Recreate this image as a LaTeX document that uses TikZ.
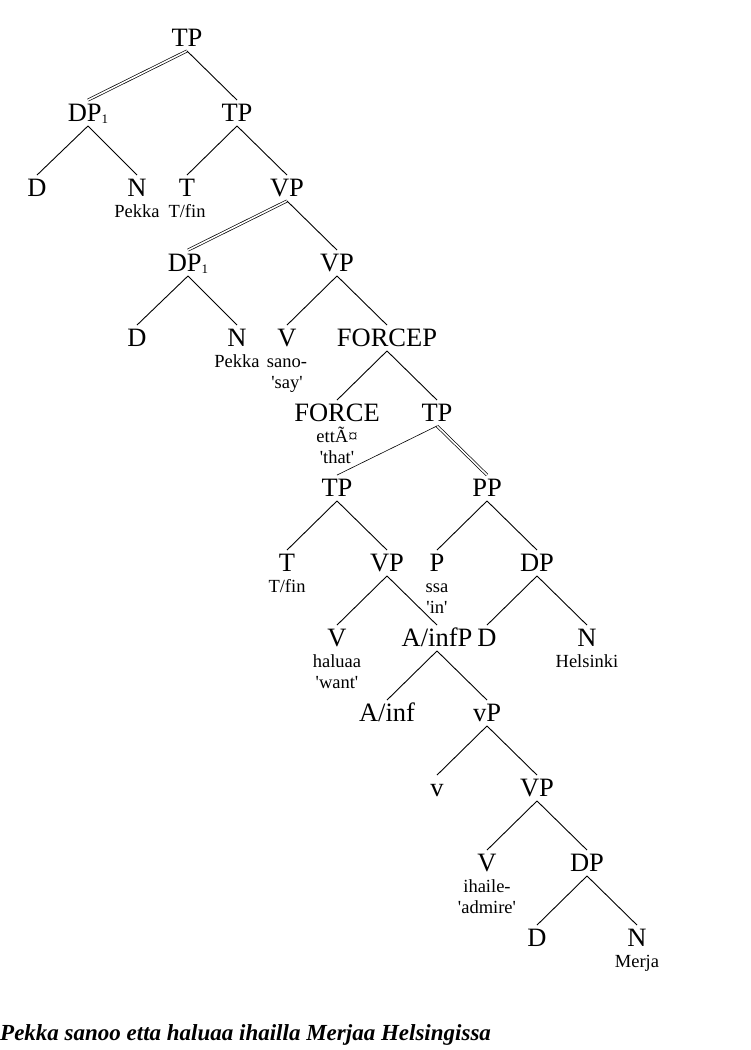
\documentclass[tikz,border=0pt]{standalone}
\usepackage{fontspec}
\setmainfont{Liberation Serif}
\usetikzlibrary{positioning}
\newcommand\sq[1]{\textquotesingle#1\textquotesingle}
\begin{document}
\begin{tikzpicture}[x=1pt,y=-1pt,
  cat/.style={font=\fontsize{26.5}{26.5}\selectfont,inner xsep=0pt,inner ysep=4pt,text height=17.5pt,text depth=0pt},
  gloss/.style={font=\fontsize{18.5}{21}\selectfont,inner sep=0pt,text height=12pt,text depth=4pt},
  edge/.style={line width=0.9pt},
  dbl/.style={double,double distance=1.6pt,line width=0.7pt},
  thinedge/.style={line width=0.6pt}]
\useasboundingbox (0,0) rectangle (750,1050);
\node[cat] (tpA) at (187,38) {TP};
\node[cat] (dpA) at (88,113) {DP{\fontsize{13}{13}\selectfont\raisebox{-2pt}{1}}};
\node[cat] (tpB) at (237,113) {TP};
\node[cat] (dA) at (37,188) {D};
\node[cat] (nA) at (137,188) {N};
\node[cat] (tB) at (187,188) {T};
\node[cat] (vpA) at (287,188) {VP};
\node[cat] (dpB) at (188,263) {DP{\fontsize{13}{13}\selectfont\raisebox{-2pt}{1}}};
\node[cat] (vpB) at (337,263) {VP};
\node[cat] (dB) at (137,338) {D};
\node[cat] (nB) at (237,338) {N};
\node[cat] (vA) at (287,338) {V};
\node[cat] (forcep) at (387,338) {FORCEP};
\node[cat] (force) at (337,413) {FORCE};
\node[cat] (tpC) at (437,413) {TP};
\node[cat] (tpD) at (337,488) {TP};
\node[cat] (ppA) at (487,488) {PP};
\node[cat] (tC) at (287,563) {T};
\node[cat] (vpC) at (387,563) {VP};
\node[cat] (pA) at (437,563) {P};
\node[cat] (dpC) at (537,563) {DP};
\node[cat] (vB) at (337,638) {V};
\node[cat] (ainfp) at (437,638) {A/infP};
\node[cat] (dC) at (487,638) {D};
\node[cat] (nC) at (587,638) {N};
\node[cat] (ainf) at (387,713) {A/inf};
\node[cat] (littlevp) at (487,713) {vP};
\node[cat] (littlev) at (437,788) {v};
\node[cat] (vpD) at (537,788) {VP};
\node[cat] (vC) at (487,863) {V};
\node[cat] (dpD) at (587,863) {DP};
\node[cat] (dD) at (537,938) {D};
\node[cat] (nD) at (637,938) {N};
\node[gloss,below=4pt of nA] (pekkaA) {Pekka};
\node[gloss,below=4pt of tB] (tfinA) {T/fin};
\node[gloss,below=4pt of nB] (pekkaB) {Pekka};
\node[gloss,below=4pt of vA] (sano) {sano-};
\node[gloss,below=5pt of sano] (say) {\sq{say}};
\node[gloss,below=4pt of force] (etta) {ettÃ¤};
\node[gloss,below=5pt of etta] (that) {\sq{that}};
\node[gloss,below=4pt of tC] (tfinB) {T/fin};
\node[gloss,below=4pt of pA] (ssa) {ssa};
\node[gloss,below=5pt of ssa] (in) {\sq{in}};
\node[gloss,below=4pt of vB] (haluaa) {haluaa};
\node[gloss,below=5pt of haluaa] (want) {\sq{want}};
\node[gloss,below=4pt of nC] (helsinki) {Helsinki};
\node[gloss,below=4pt of vC] (ihaile) {ihaile-};
\node[gloss,below=5pt of ihaile] (admire) {\sq{admire}};
\node[gloss,below=4pt of nD] (merja) {Merja};
\node[font=\fontsize{23}{23}\selectfont\bfseries\itshape,inner sep=0pt,anchor=base west] (caption) at (0,1040) {Pekka sanoo etta haluaa ihailla Merjaa Helsingissa};
\draw[dbl] (tpA.south)--(dpA.north) (vpA.south)--(dpB.north) (tpC.south)--(ppA.north);
\draw[thinedge] (tpC.south)--(tpD.north);
\draw[edge] (tpA.south)--(tpB.north) (dpA.south)--(dA.north) (dpA.south)--(nA.north)
  (tpB.south)--(tB.north) (tpB.south)--(vpA.north) (vpA.south)--(vpB.north)
  (dpB.south)--(dB.north) (dpB.south)--(nB.north) (vpB.south)--(vA.north) (vpB.south)--(forcep.north)
  (forcep.south)--(force.north) (forcep.south)--(tpC.north)
  (tpD.south)--(tC.north) (tpD.south)--(vpC.north) (ppA.south)--(pA.north) (ppA.south)--(dpC.north)
  (vpC.south)--(vB.north) (vpC.south)--(ainfp.north) (dpC.south)--(dC.north) (dpC.south)--(nC.north)
  (ainfp.south)--(ainf.north) (ainfp.south)--(littlevp.north)
  (littlevp.south)--(littlev.north) (littlevp.south)--(vpD.north)
  (vpD.south)--(vC.north) (vpD.south)--(dpD.north) (dpD.south)--(dD.north) (dpD.south)--(nD.north);
\end{tikzpicture}
\end{document}
